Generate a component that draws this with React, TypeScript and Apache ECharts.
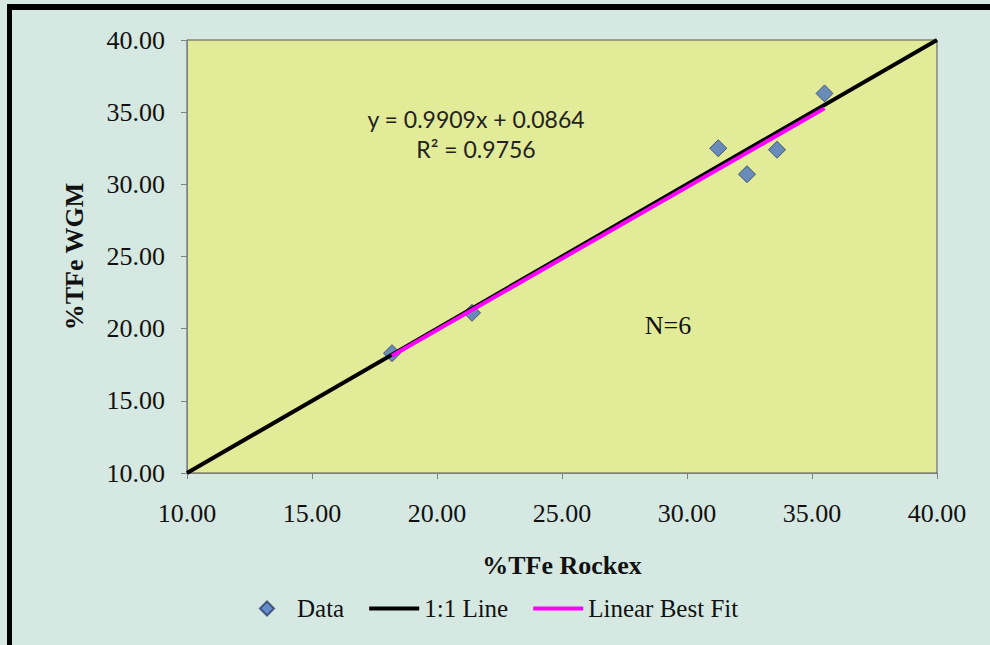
import React, { useEffect, useRef } from "react";
import * as echarts from "echarts";

// Data
const rockexTFe = [18.2, 21.4, 31.25, 32.4, 33.6, 35.5];
const wgmTFe = [18.3, 21.1, 32.5, 30.7, 32.4, 36.3];
const oneToOneEnds = [10, 40];
const fitSlope = 0.9909;
const fitIntercept = 0.0864;
const axisMin = 10;
const axisMax = 40;
const axisStep = 5;
const legendNames = ["Data", "1:1 Line", "Linear Best Fit"];

const SERIF = "'Liberation Serif', 'Times New Roman', serif";
const SANS = "Lato, 'Open Sans', sans-serif";

const DIAMOND_ICON = "path://M0,7L7,0L14,7L7,14Z";
const LINE_ICON = "path://M0,0L50,0L50,4L0,4Z";

export default function App() {
  const ref = useRef<HTMLDivElement>(null);

  useEffect(() => {
    document.body.style.margin = "0";
    if (!ref.current) return;
    const chart = echarts.init(ref.current, undefined, { renderer: "svg" });

    const pts = rockexTFe.map((x, i) => [x, wgmTFe[i]]);
    const fitXMin = Math.min(...rockexTFe);
    const fitXMax = Math.max(...rockexTFe);
    const fitLine = [fitXMin, fitXMax].map((x) => [x, fitSlope * x + fitIntercept]);
    const oneToOne = oneToOneEnds.map((v) => [v, v]);

    const labelStyle = {
      fontFamily: SERIF,
      fontSize: 26,
      color: "#111",
      formatter: (v: number) => v.toFixed(2),
    };

    const axisCommon = {
      type: "value",
      min: axisMin,
      max: axisMax,
      interval: axisStep,
      nameLocation: "middle",
      axisLine: { show: true, lineStyle: { color: "#7f7f7f", width: 1 } },
      axisTick: { show: true, length: 6, lineStyle: { color: "#7f7f7f" } },
      splitLine: { show: false },
      nameTextStyle: {
        fontFamily: SERIF,
        fontSize: 26,
        fontWeight: "bold",
        color: "#111",
      },
    };

    chart.setOption({
      animation: false,
      backgroundColor: "#d5e8e1",
      grid: {
        left: 187,
        right: 53,
        top: 40,
        bottom: 172,
        show: true,
        backgroundColor: "#e2eb97",
        borderColor: "#555",
        borderWidth: 1,
        containLabel: false,
      },
      xAxis: {
        ...axisCommon,
        name: "%TFe Rockex",
        nameGap: 79,
        axisLabel: { ...labelStyle, margin: 27 },
      },
      yAxis: {
        ...axisCommon,
        name: "%TFe WGM",
        nameGap: 100,
        axisLabel: { ...labelStyle, margin: 22 },
      },
      legend: {
        data: [
          { name: legendNames[0], icon: DIAMOND_ICON },
          { name: legendNames[1], icon: LINE_ICON },
          { name: legendNames[2], icon: LINE_ICON },
        ],
        symbolKeepAspect: true,
        left: 254,
        top: 591,
        itemWidth: 50,
        itemHeight: 14,
        itemGap: 25,
        textStyle: { fontFamily: SERIF, fontSize: 25, color: "#111" },
      },
      graphic: [
        { type: "rect", shape: { x: 7, y: 4, width: 983, height: 6 }, style: { fill: "#000" }, silent: true },
        { type: "rect", shape: { x: 7, y: 4, width: 5, height: 641 }, style: { fill: "#000" }, silent: true },
        {
          type: "text",
          x: 476,
          y: 119,
          style: {
            text: "y = 0.9909x + 0.0864",
            font: `23px ${SANS}`,
            fill: "#222",
            align: "center",
            verticalAlign: "middle",
          },
        },
        {
          type: "text",
          x: 476,
          y: 149,
          style: {
            text: "R² = 0.9756",
            font: `23px ${SANS}`,
            fill: "#222",
            align: "center",
            verticalAlign: "middle",
          },
        },
        {
          type: "text",
          x: 668,
          y: 325,
          style: {
            text: "N=6",
            font: `26px ${SERIF}`,
            fill: "#111",
            align: "center",
            verticalAlign: "middle",
          },
        },
      ],
      series: [
        {
          name: legendNames[0],
          type: "scatter",
          data: pts,
          symbol: "diamond",
          symbolSize: 17,
          itemStyle: { color: "#4b73c2", borderColor: "#2b3f6b", borderWidth: 1 },
          z: 2,
        },
        {
          name: legendNames[1],
          type: "line",
          data: oneToOne,
          showSymbol: false,
          symbol: "none",
          lineStyle: { color: "#000", width: 4 },
          itemStyle: { color: "#000" },
          z: 3,
        },
        {
          name: legendNames[2],
          type: "line",
          data: fitLine,
          showSymbol: false,
          symbol: "none",
          lineStyle: { color: "#ff00ff", width: 4 },
          itemStyle: { color: "#ff00ff" },
          z: 4,
        },
      ],
    });

    return () => chart.dispose();
  }, []);

  return <div ref={ref} style={{ width: 990, height: 645 }} />;
}
